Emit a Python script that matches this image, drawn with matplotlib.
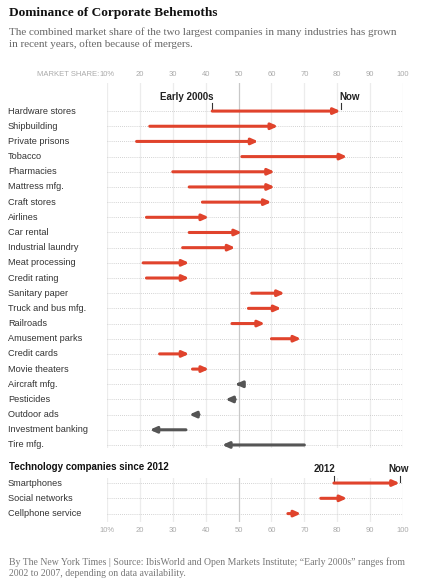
import matplotlib
matplotlib.use('Agg')
import matplotlib.pyplot as plt

# Industries: early 2000s share -> now share (two largest companies combined, %)
industries = ['Hardware stores', 'Shipbuilding', 'Private prisons', 'Tobacco', 'Pharmacies',
              'Mattress mfg.', 'Craft stores', 'Airlines', 'Car rental', 'Industrial laundry',
              'Meat processing', 'Credit rating', 'Sanitary paper', 'Truck and bus mfg.',
              'Railroads', 'Amusement parks', 'Credit cards', 'Movie theaters', 'Aircraft mfg.',
              'Pesticides', 'Outdoor ads', 'Investment banking', 'Tire mfg.']
early = [42, 23, 19, 51, 30, 35, 39, 22, 35, 33, 21, 22, 54, 53, 48, 60, 26, 36, 51, 49, 38, 34, 70]
now = [81, 62, 56, 83, 61, 61, 60, 41, 51, 49, 35, 35, 64, 63, 58, 69, 35, 41, 49, 46, 35, 23, 45]

tech = ['Smartphones', 'Social networks', 'Cellphone service']
tech_2012 = [79, 75, 65]
tech_now = [99, 83, 69]

ticks = [10, 20, 30, 40, 50, 60, 70, 80, 90, 100]
tick_labels = ['10%', '20', '30', '40', '50', '60', '70', '80', '90', '100']

RED = '#e0432c'
GRAY = '#555555'
W, H = 421, 584
SANS = 'Liberation Sans'
SERIF = 'Liberation Serif'

fig = plt.figure(figsize=(W / 100, H / 100), dpi=100)
fig.patch.set_facecolor('white')


def px_axes(x0, y0, x1, y1):
    # axes from pixel box (top-left origin)
    return fig.add_axes([x0 / W, 1 - y1 / H, (x1 - x0) / W, (y1 - y0) / H])


def draw_rows(ax, names, starts, ends, ylim):
    ax.set_xlim(10, 100)
    ax.set_ylim(*ylim)
    for s in ax.spines.values():
        s.set_visible(False)
    ax.set_xticks([])
    ax.set_yticks([])
    for t in ticks:
        ax.axvline(t, color='#c8c8c8' if t == 50 else '#ececec', lw=0.9, zorder=0)
    for i, (n, a, b) in enumerate(zip(names, starts, ends)):
        ax.plot([10, 100], [i, i], color='#c4c4c4', lw=0.6, ls=(0, (1, 1.5)), zorder=1)
        col = RED if b > a else GRAY
        ax.annotate('', xy=(b, i), xytext=(a, i),
                    arrowprops=dict(arrowstyle='-|>,head_length=0.38,head_width=0.17',
                                    color=col, lw=2.2, shrinkA=0, shrinkB=0),
                    zorder=3)
        ax.text(-0.335, i, n, transform=ax.get_yaxis_transform(), ha='left', va='center',
                fontsize=6.6, color='#333333', family=SANS)


# main section
ax = px_axes(107, 83, 403, 448)
draw_rows(ax, industries, early, now, (22.2, -1.85))
ax.plot([early[0], early[0]], [-0.55, -0.15], color='#333333', lw=0.8)
ax.plot([now[0], now[0]], [-0.55, -0.15], color='#333333', lw=0.8)
ax.text(early[0] + 0.3, -0.95, 'Early 2000s', ha='right', va='center', fontsize=7,
        fontweight='bold', color='#222222', family=SANS)
ax.text(now[0] - 0.3, -0.95, 'Now', ha='left', va='center', fontsize=7,
        fontweight='bold', color='#222222', family=SANS)

# top axis labels
for t, lab in zip(ticks, tick_labels):
    fig.text((107 + (t - 10) * 296 / 90) / W, 1 - 75 / H, lab, ha='center', va='center',
             fontsize=5.5, color='#aaaaaa', family=SANS)
fig.text(99 / W, 1 - 75 / H, 'MARKET SHARE:', ha='right', va='center',
         fontsize=5.5, color='#aaaaaa', family=SANS)

# technology section
ax2 = px_axes(107, 478, 403, 522)
draw_rows(ax2, tech, tech_2012, tech_now, (2.55, -0.33))
ax2.plot([tech_2012[0], tech_2012[0]], [-0.45, -0.05], color='#333333', lw=0.8, clip_on=False)
ax2.plot([tech_now[0], tech_now[0]], [-0.45, -0.05], color='#333333', lw=0.8, clip_on=False)
fig.text(9 / W, 1 - 467 / H, 'Technology companies since 2012', ha='left', va='center',
         fontsize=7, fontweight='bold', color='#111111', family=SANS)
ax2.text(tech_2012[0] + 0.3, -0.95, '2012', ha='right', va='center', fontsize=7,
         fontweight='bold', color='#222222', family=SANS)
ax2.text(tech_now[0] - 0.3, -0.95, 'Now', ha='center', va='center', fontsize=7,
         fontweight='bold', color='#222222', family=SANS)

for t, lab in zip(ticks, tick_labels):
    fig.text((107 + (t - 10) * 296 / 90) / W, 1 - 531 / H, lab, ha='center', va='center',
             fontsize=5.5, color='#aaaaaa', family=SANS)

# titles
fig.text(9 / W, 1 - 13 / H, 'Dominance of Corporate Behemoths', ha='left', va='center',
         fontsize=9.6, fontweight='bold', color='#111111', family=SERIF)
fig.text(9 / W, 1 - 32 / H, 'The combined market share of the two largest companies in many industries has grown',
         ha='left', va='center', fontsize=8.0, color='#666666', family=SERIF)
fig.text(9 / W, 1 - 44.5 / H, 'in recent years, often because of mergers.',
         ha='left', va='center', fontsize=8.0, color='#666666', family=SERIF)

fig.text(9 / W, 1 - 562 / H, 'By The New York Times | Source: IbisWorld and Open Markets Institute; \u201cEarly 2000s\u201d ranges from',
         ha='left', va='center', fontsize=7.0, color='#777777', family=SERIF)
fig.text(9 / W, 1 - 573 / H, '2002 to 2007, depending on data availability.',
         ha='left', va='center', fontsize=7.0, color='#777777', family=SERIF)

fig.savefig('out.png', dpi=100)
